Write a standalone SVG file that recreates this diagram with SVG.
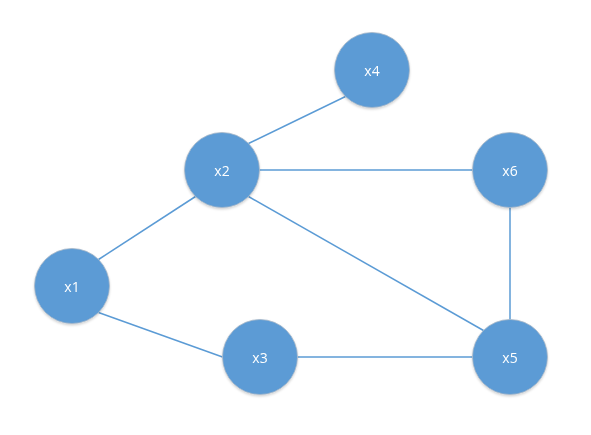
<svg xmlns="http://www.w3.org/2000/svg" width="591" height="435" viewBox="0 0 591 435">
<defs>
<style>
.edge{stroke:#5B9BD5;stroke-width:1.5;fill:none}
.node circle{fill:#5B9BD5;stroke:#A8B8C8;stroke-width:0.8}
.node text{fill:#FFFFFF;font-family:"Open Sans","Liberation Sans",sans-serif;font-size:14px;text-anchor:middle;dominant-baseline:central}
</style>
<filter id="sh" x="-20%" y="-20%" width="140%" height="140%">
<feDropShadow dx="0" dy="1.5" stdDeviation="1.2" flood-color="#000" flood-opacity="0.18"/>
</filter>
</defs>
<rect width="591" height="435" fill="#FFFFFF"/>
<g id="connectors">
<line class="edge" x1="248.5" y1="143.5" x2="345.5" y2="96.5"/>
<line class="edge" x1="259.5" y1="170" x2="472.5" y2="170"/>
<line class="edge" x1="98.5" y1="259.5" x2="195.5" y2="196.5"/>
<line class="edge" x1="248.5" y1="196.5" x2="483.5" y2="330.5"/>
<line class="edge" x1="98.5" y1="312.5" x2="222.5" y2="357"/>
<line class="edge" x1="297.5" y1="357" x2="472.5" y2="357"/>
<line class="edge" x1="510" y1="207.5" x2="510" y2="319.5"/>
</g>
<g id="x4" class="node" filter="url(#sh)"><circle cx="372" cy="70" r="37.5"/><text x="372" y="70">x4</text></g>
<g id="x2" class="node" filter="url(#sh)"><circle cx="222" cy="170" r="37.5"/><text x="222" y="170">x2</text></g>
<g id="x6" class="node" filter="url(#sh)"><circle cx="510" cy="170" r="37.5"/><text x="510" y="170">x6</text></g>
<g id="x1" class="node" filter="url(#sh)"><circle cx="72" cy="286" r="37.5"/><text x="72" y="286">x1</text></g>
<g id="x3" class="node" filter="url(#sh)"><circle cx="260" cy="357" r="37.5"/><text x="260" y="357">x3</text></g>
<g id="x5" class="node" filter="url(#sh)"><circle cx="510" cy="357" r="37.5"/><text x="510" y="357">x5</text></g>
</svg>
